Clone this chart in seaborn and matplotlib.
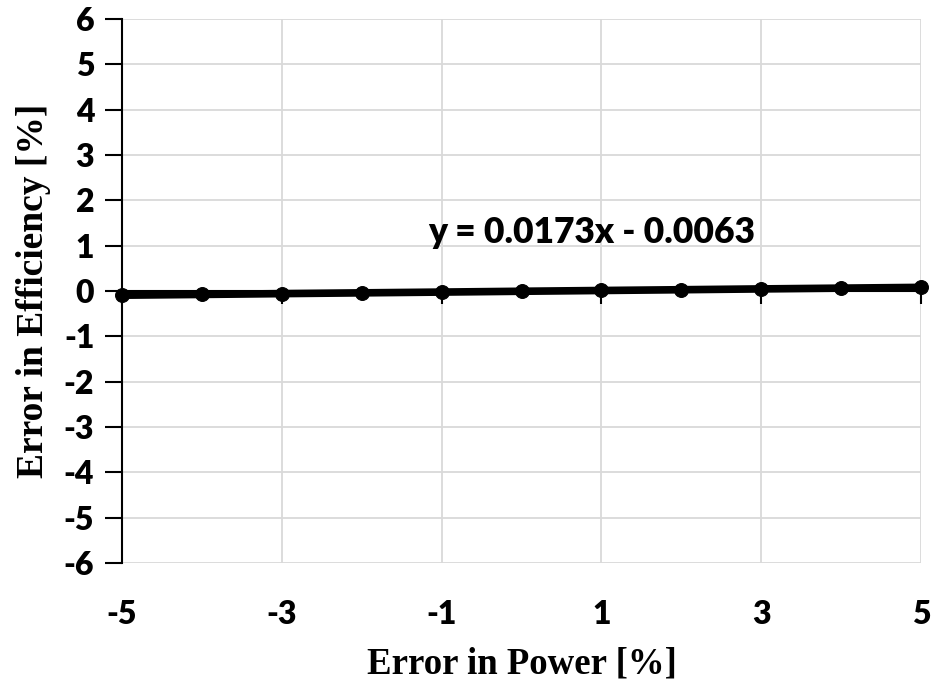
import numpy as np
import pandas as pd
import matplotlib
matplotlib.use("Agg")
import matplotlib.pyplot as plt
import seaborn as sns

# Data
power_error = [-5, -4, -3, -2, -1, 0, 1, 2, 3, 4, 5]
efficiency_error = [-0.093, -0.076, -0.058, -0.041, -0.024, -0.006,
                    0.011, 0.028, 0.046, 0.063, 0.080]
fit_label = "y = 0.0173x - 0.0063"
x_ticks = [-5, -3, -1, 1, 3, 5]
y_ticks = list(range(-6, 7))

data = pd.DataFrame({"Error in Power [%]": power_error,
                     "Error in Efficiency [%]": efficiency_error})

sns.set_style("white")
plt.rcParams["axes.unicode_minus"] = False
plt.rcParams["text.color"] = "black"
plt.rcParams["xtick.color"] = "black"
plt.rcParams["ytick.color"] = "black"
plt.rcParams["axes.labelcolor"] = "black"
tick_font = ["Lato", "DejaVu Sans"]
label_font = ["Liberation Serif", "DejaVu Serif"]

fig = plt.figure(figsize=(9.33, 6.83), dpi=100)
ax = fig.add_axes([0.1308, 0.1757, 0.8563, 0.7965])

sns.lineplot(x="Error in Power [%]", y="Error in Efficiency [%]", data=data,
             ax=ax, color="black", linewidth=5.5, marker="o", markersize=10,
             markeredgecolor="black", zorder=5, clip_on=False)

ax.set_xlim(-5, 5)
ax.set_ylim(-6, 6)
ax.set_xticks(x_ticks)
ax.set_yticks(y_ticks)
ax.grid(True, color="#d9d9d9", linewidth=1.3)
ax.set_axisbelow(True)

# horizontal axis sits at y = 0, labels at the bottom
ax.spines["bottom"].set_position(("data", 0))
for s in ["top", "right"]:
    ax.spines[s].set_visible(False)
ax.spines["left"].set_linewidth(1.5)
ax.spines["left"].set_color("black")
ax.spines["bottom"].set_linewidth(1.5)
ax.spines["bottom"].set_color("black")
ax.tick_params(axis="x", bottom=True, direction="out", length=9, width=1.5,
               labelbottom=False)
ax.tick_params(axis="y", left=True, direction="out", length=12, width=1.5,
               pad=8)
for lab in ax.get_yticklabels():
    lab.set_fontfamily(tick_font)
    lab.set_fontweight("heavy")
    lab.set_fontsize(23)

sec = ax.secondary_xaxis("bottom")
sec.set_xticks(x_ticks)
sec.spines["bottom"].set_visible(False)
sec.tick_params(length=0, pad=27)
for lab in sec.get_xticklabels():
    lab.set_fontfamily(tick_font)
    lab.set_fontweight("heavy")
    lab.set_fontsize(23)

ax.set_xlabel("")
sec.set_xlabel("Error in Power [%]", fontfamily=label_font, fontweight="bold",
               fontsize=26.5, labelpad=12)
ax.set_ylabel("Error in Efficiency [%]", fontfamily=label_font,
              fontweight="bold", fontsize=27, labelpad=9)

ax.text(0.88, 1.28, fit_label, fontfamily=tick_font, fontweight="heavy",
        fontsize=25.5, ha="center", va="center")

fig.savefig("out.png", dpi=100)
